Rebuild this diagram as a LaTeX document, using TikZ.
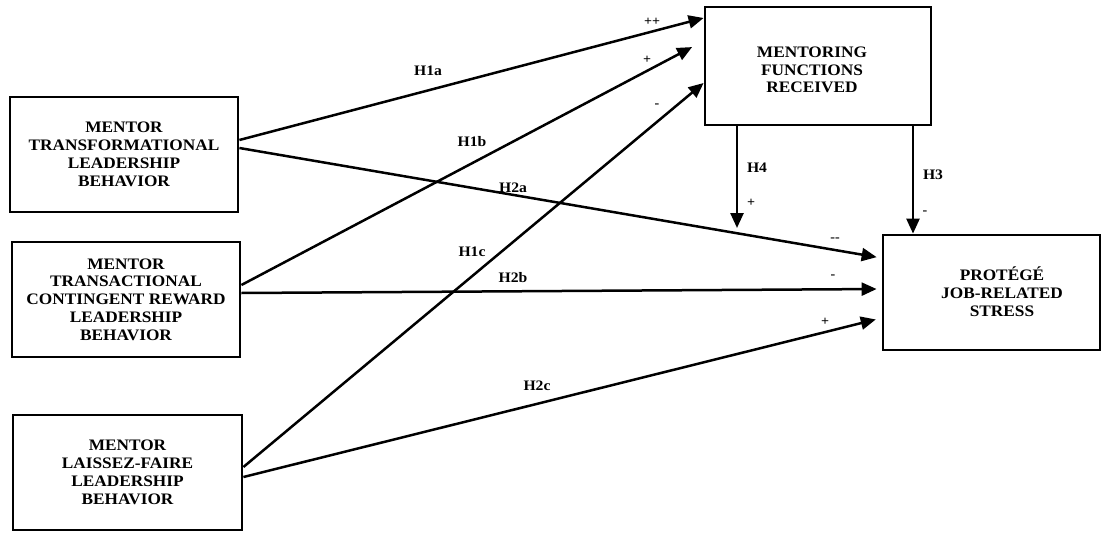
\documentclass[tikz,border=0pt]{standalone}
\usepackage{fontspec}
\setmainfont[FakeStretch=1.08]{Liberation Serif}
\usetikzlibrary{arrows.meta}
\begin{document}
\begin{tikzpicture}[x=1pt,y=-1pt,
  box/.style={draw, line width=2.8pt, rectangle, align=center,
    font=\bfseries\fontsize{16}{17.8}\selectfont, inner sep=0pt},
  boxtext/.style={align=center, font=\bfseries\fontsize{16}{17.8}\selectfont, inner sep=0pt},
  link/.style={line width=2.5pt, -{Triangle[length=15pt,width=13pt]}},
  hyp/.style={font=\bfseries\fontsize{14.5}{14.5}\selectfont, inner sep=0pt},
  sgn/.style={font=\bfseries\fontsize{13}{13}\selectfont, inner sep=0pt}]

% canvas
\fill[white] (0,0) rectangle (1103,535);
\useasboundingbox (0,0) rectangle (1103,535);

% constructs
\node[box, minimum width=228pt, minimum height=115pt] (tf) at (124,154.5)
  {MENTOR\\TRANSFORMATIONAL\\LEADERSHIP\\BEHAVIOR};
\node[box, minimum width=228pt, minimum height=115pt] (tc) at (126,299.5)
  {MENTOR\\TRANSACTIONAL\\CONTINGENT REWARD\\LEADERSHIP\\BEHAVIOR};
\node[box, minimum width=229pt, minimum height=115pt] (lf) at (127.5,472.5)
  {MENTOR\\LAISSEZ-FAIRE\\LEADERSHIP\\BEHAVIOR};
\node[box, minimum width=226pt, minimum height=118pt] (mf) at (818,66) {};
\node[boxtext] (mftext) at (812,70) {MENTORING\\FUNCTIONS\\RECEIVED};
\node[box, minimum width=217pt, minimum height=115pt] (st) at (991.5,292.5) {};
\node[boxtext] (sttext) at (1002,292) {PROTÉGÉ\\JOB-RELATED\\STRESS};

% hypothesised paths
\draw[link] ([yshift=14.5pt]tf.east) -- ([yshift=48pt]mf.west);
\draw[link, shorten >=5pt] ([yshift=6.5pt]tf.east) -- ([yshift=34.5pt]st.west);
\draw[link, shorten >=13pt] ([yshift=14.5pt]tc.east) -- ([yshift=25pt]mf.west);
\draw[link, shorten >=5pt] ([yshift=6.5pt]tc.east) -- ([yshift=3.5pt]st.west);
\draw[link] ([yshift=5.5pt]lf.east) -- ([yshift=-17pt]mf.west);
\draw[link, shorten >=6pt] ([yshift=-4.5pt]lf.east) -- ([yshift=-25.5pt]st.west);
\coordinate (h4end) at (737,228);
\draw[link] ([xshift=-81pt]mf.south) -- (h4end);
\draw[link] ([xshift=95pt]mf.south) -- ([xshift=95pt]mf.south |- st.north);

% hypothesis labels
\node[hyp] (lh1a) at (428,71) {H1a};
\node[hyp] (lh1b) at (472,142) {H1b};
\node[hyp] (lh1c) at (472,252) {H1c};
\node[hyp] (lh2a) at (513,188) {H2a};
\node[hyp] (lh2b) at (513,278) {H2b};
\node[hyp] (lh2c) at (537,386) {H2c};
\node[hyp] (lh3) at (933,175) {H3};
\node[hyp] (lh4) at (757,168) {H4};

% expected signs
\node[sgn] (s1a) at (652,22) {++};
\node[sgn] (s1b) at (647,60) {+};
\node[sgn] (s1c) at (657,106) {-};
\node[sgn] (s2a) at (835,240) {-{}-};
\node[sgn] (s2b) at (833,277) {-};
\node[sgn] (s2c) at (825,322) {+};
\node[sgn] (s3) at (925,213) {-};
\node[sgn] (s4) at (751,203) {+};
\end{tikzpicture}
\end{document}
